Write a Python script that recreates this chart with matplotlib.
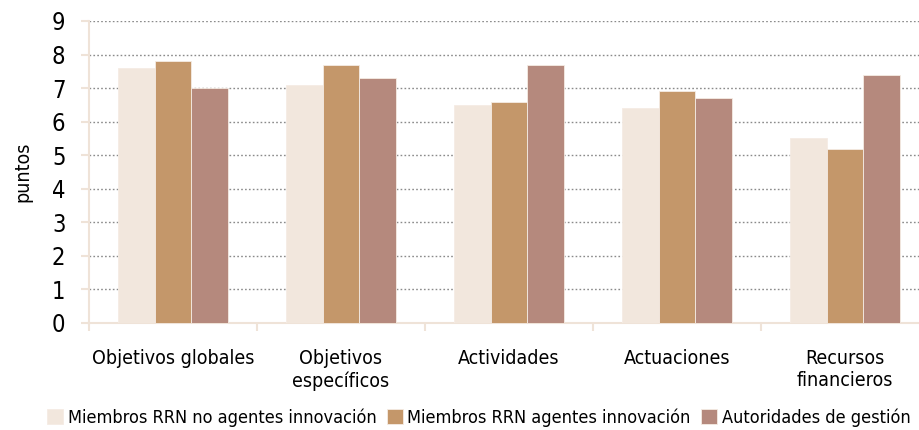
import numpy as np
import matplotlib
matplotlib.use('Agg')
import matplotlib.pyplot as plt
from matplotlib.ticker import FixedLocator

plt.rcParams['font.family'] = ['DejaVu Sans']
plt.rcParams['font.stretch'] = 'condensed'

categories = ['Objetivos globales', 'Objetivos\nespecíficos', 'Actividades',
              'Actuaciones', 'Recursos\nfinancieros']
series_names = ['Miembros RRN no agentes innovación',
                'Miembros RRN agentes innovación',
                'Autoridades de gestión']
no_agentes = [7.6, 7.1, 6.5, 6.4, 5.5]
agentes = [7.8, 7.7, 6.6, 6.9, 5.2]
autoridades = [7.0, 7.3, 7.7, 6.7, 7.4]

colors = ['#F2E7DD', '#C4976A', '#B5897D']
axis_color = '#EFE3D8'

fig = plt.figure(figsize=(9.2, 4.3), dpi=100)
# the plot area runs a little past the right edge, as in the original
ax = fig.add_axes([89 / 920, 107 / 430, 840 / 920, 302 / 430])

x = np.arange(len(categories))
w = 0.22
for i, vals in enumerate([no_agentes, agentes, autoridades]):
    ax.bar(x + (i - 1) * w, vals, width=w, color=colors[i],
           edgecolor='#F5ECE4', linewidth=0.6, label=series_names[i], zorder=3)

ax.set_xlim(-0.5, len(categories) - 0.5)
ax.set_ylim(0, 9)
ax.set_yticks(range(10))
ax.yaxis.grid(True, linestyle=(0, (1.2, 1.6)), color='#8A8A8A', linewidth=1.0, zorder=0)

ax.set_xticks(x)
ax.set_xticklabels(categories)
ax.xaxis.set_minor_locator(FixedLocator(np.arange(-0.5, len(categories), 1.0)))
ax.tick_params(axis='x', which='major', length=0, pad=19, labelsize=14)
ax.tick_params(axis='x', which='minor', length=6, width=1.5, color=axis_color)
ax.tick_params(axis='y', length=6, width=1.5, color=axis_color, labelsize=17, pad=11)

for s in ['top', 'right']:
    ax.spines[s].set_visible(False)
for s in ['left', 'bottom']:
    ax.spines[s].set_color(axis_color)
    ax.spines[s].set_linewidth(1.5)

ax.set_ylabel('puntos', fontsize=14, labelpad=14)

fig.legend(loc='lower left', bbox_to_anchor=(40 / 920, -0.01), ncol=3,
           frameon=False, fontsize=13, handlelength=0.9, handleheight=0.9,
           handletextpad=0.25, columnspacing=0.55, borderaxespad=0)

fig.savefig('out.png', dpi=100)
